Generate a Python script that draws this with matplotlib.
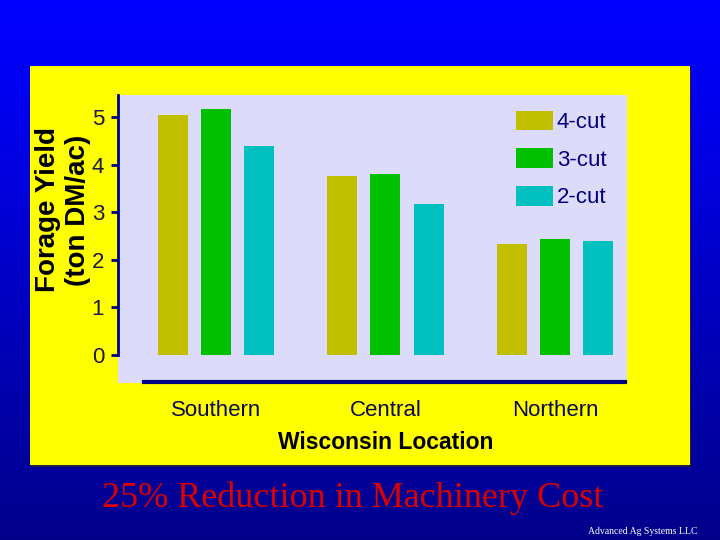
import numpy as np
import matplotlib
matplotlib.use("Agg")
import matplotlib.pyplot as plt
from matplotlib.patches import Rectangle
from matplotlib.colors import LinearSegmentedColormap

locations = ["Southern", "Central", "Northern"]
series = ["4-cut", "3-cut", "2-cut"]
cut4 = [5.04, 3.77, 2.34]
cut3 = [5.18, 3.81, 2.44]
cut2 = [4.40, 3.18, 2.40]
yticks = [0, 1, 2, 3, 4, 5]
colors = ["#c0c000", "#00c000", "#00c0c0"]
navy = "#000080"

fig = plt.figure(figsize=(7.2, 5.4), dpi=100)

# blue slide background (gradient) + yellow panel
bg = fig.add_axes([0, 0, 1, 1])
grad = np.linspace(0, 1, 256).reshape(-1, 1)
cmap = LinearSegmentedColormap.from_list("slide", [(0, "#0000ff"), (0.12, "#0000f8"), (1, "#00008a")])
bg.imshow(grad, aspect="auto", cmap=cmap, extent=[0, 1, 0, 1], origin="upper")
bg.add_patch(Rectangle((30 / 720 + 0.002, 75 / 540 - 0.003), 660 / 720, 399 / 540,
                       facecolor="#202040", zorder=2))
bg.add_patch(Rectangle((30 / 720, 75 / 540), 660 / 720, 399 / 540,
                       facecolor="#ffff00", zorder=3))
bg.set_xlim(0, 1)
bg.set_ylim(0, 1)
bg.axis("off")

ax = fig.add_axes([118 / 720, 157 / 540, 509 / 720, 288 / 540])
ax.set_facecolor("#dcdcfa")
x = np.arange(len(locations))
off = 0.254
w = 0.177
for i, (vals, name) in enumerate(zip([cut4, cut3, cut2], series)):
    ax.bar(x + (i - 1) * off, vals, width=w, color=colors[i], label=name, zorder=3)

ax.set_xlim(-0.578, 2.425)
ax.set_ylim(-0.60, 5.47)
ax.set_yticks(yticks)
ax.set_yticklabels([str(t) for t in yticks], fontsize=16, color="#1a1a40", family="Liberation Sans")
ax.tick_params(axis="y", direction="out", length=5, width=2, color=navy, pad=5)
ax.set_xticks(x)
ax.set_xticklabels([])
ax.tick_params(axis="x", length=0)
for s in ["top", "right"]:
    ax.spines[s].set_visible(False)
ax.spines["left"].set_bounds(0, 5.47)
ax.spines["left"].set_color(navy)
ax.spines["left"].set_linewidth(2)
ax.spines["bottom"].set_bounds(-0.425, 2.415)
ax.spines["bottom"].set_color(navy)
ax.spines["bottom"].set_linewidth(3)
ax.spines["bottom"].set_position(("data", -0.57))

for xi, name in zip(x, locations):
    ax.text(xi, -1.17, name, ha="center", va="center", fontsize=16, color="#0a0a50",
            family="Liberation Sans", clip_on=False)
ax.text(1.0, -1.85, "Wisconsin Location", ha="center", va="center", fontsize=16.5,
        fontweight="bold", color="black", family="Liberation Sans", clip_on=False)

fig.text(48 / 720, 1 - 210 / 540, "Forage Yield", rotation=90, ha="center", va="center",
         fontsize=20, fontweight="bold", color="black", family="Liberation Sans")
fig.text(78 / 720, 1 - 210 / 540, "(ton DM/ac)", rotation=90, ha="center", va="center",
         fontsize=20, fontweight="bold", color="black", family="Liberation Sans")

leg = ax.legend(loc="upper right", bbox_to_anchor=(0.99, 1.0), frameon=False,
                handlelength=1.7, handleheight=1.0, handletextpad=0.15, labelspacing=0.68,
                prop={"family": "Liberation Sans", "size": 16}, borderaxespad=0.3)
for t in leg.get_texts():
    t.set_color(navy)

fig.text(353 / 720, 1 - 498 / 540, "25% Reduction in Machinery Cost", ha="center", va="center",
         fontsize=26, color="#dd0000", family="Liberation Serif")
fig.text(697 / 720, 1 - 531 / 540, "Advanced Ag Systems LLC", ha="right", va="center",
         fontsize=7, color="white", family="Liberation Serif")

fig.savefig("out.png", dpi=100)
